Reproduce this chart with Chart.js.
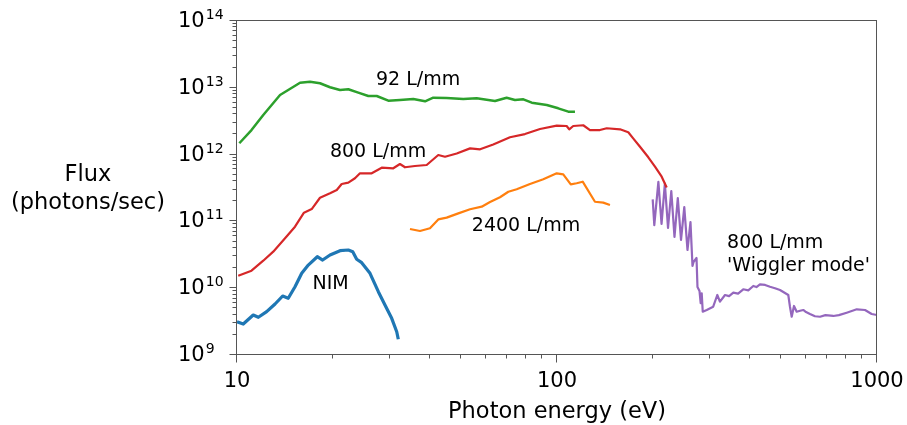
<!DOCTYPE html>
<html>
<head>
<meta charset="utf-8">
<script src="https://cdn.jsdelivr.net/npm/chart.js@4.4.1/dist/chart.umd.min.js"></script>
<style>
html,body{margin:0;padding:0;background:#fff;}
#wrap{width:907px;height:425px;position:relative;}
</style>
</head>
<body>
<div id="wrap"><canvas id="c" width="907" height="425"></canvas></div>
<script>
// ---- data (photon energy in eV, flux in photons/sec) ----
const nimEnergy = [10.0, 10.46, 11.24, 11.66, 12.38, 13.15, 13.89, 14.46, 15.18, 15.93, 16.7, 17.82, 18.52, 19.53, 20.99, 22.28, 23.0, 23.66, 24.53, 26.04, 27.65, 29.0, 30.44, 31.56, 31.92];
const nimFlux = [3.15e9, 2.91e9, 3.97e9, 3.67e9, 4.45e9, 5.8e9, 7.64e9, 7.06e9, 1.05e10, 1.67e10, 2.22e10, 2.96e10, 2.64e10, 3.14e10, 3.64e10, 3.73e10, 3.52e10, 2.71e10, 2.41e10, 1.67e10, 8.87e9, 5.61e9, 3.54e9, 2.23e9, 1.72e9];

const g92Energy = [10.17, 11.1, 12.08, 13.63, 15.74, 16.91, 18.17, 19.53, 20.99, 22.28, 23.93, 25.72, 27.33, 29.71, 32.3, 35.56, 38.7, 41.04, 45.2, 50.95, 56.1, 64.0, 69.6, 73.9, 78.5, 83.4, 92.9, 100.9, 108.5, 113.8];
const g92Flux = [1.48e12, 2.33e12, 3.92e12, 7.8e12, 1.19e13, 1.23e13, 1.17e13, 1.02e13, 9.27e12, 9.5e12, 8.45e12, 7.54e12, 7.54e12, 6.41e12, 6.57e12, 6.8e12, 6.28e12, 7.11e12, 7.03e12, 6.8e12, 6.96e12, 6.34e12, 7.11e12, 6.57e12, 6.73e12, 5.98e12, 5.53e12, 4.93e12, 4.39e12, 4.39e12];

const g800Energy = [10.09, 11.1, 12.08, 12.98, 14.13, 15.18, 16.19, 17.12, 18.17, 19.53, 20.5, 21.24, 22.28, 23.37, 24.23, 26.36, 28.33, 30.79, 32.3, 33.5, 35.98, 39.15, 42.56, 44.67, 48.6, 53.5, 57.5, 63.2, 71.3, 79.4, 88.5, 99.8, 107.2, 109.2, 112.4, 120.8, 126.8, 136.2, 143, 157.4, 167, 173, 181.7, 192.9, 202.4, 212.4, 220.2];
const g800Flux = [1.54e10, 1.83e10, 2.58e10, 3.52e10, 5.59e10, 8.34e10, 1.35e11, 1.53e11, 2.26e11, 2.64e11, 2.95e11, 3.63e11, 3.8e11, 4.42e11, 5.25e11, 5.25e11, 6.37e11, 6.24e11, 7.23e11, 6.46e11, 6.75e11, 6.99e11, 9.86e11, 9.3e11, 1.04e12, 1.24e12, 1.2e12, 1.42e12, 1.82e12, 2.03e12, 2.42e12, 2.71e12, 2.68e12, 2.39e12, 2.68e12, 2.75e12, 2.33e12, 2.33e12, 2.48e12, 2.39e12, 2.16e12, 1.75e12, 1.31e12, 9.12e11, 6.59e11, 4.67e11, 3.22e11];

const g2400Energy = [34.72, 37.31, 40.09, 42.56, 45.2, 49.16, 53.5, 58.17, 61.76, 66.35, 70.46, 74.82, 82.34, 90.6, 99.8, 104.6, 110.4, 115.2, 120.3, 131.4, 139.5, 146.4];
const g2400Flux = [7.7e10, 7.18e10, 7.89e10, 1.07e11, 1.14e11, 1.32e11, 1.52e11, 1.66e11, 1.95e11, 2.3e11, 2.78e11, 3.03e11, 3.63e11, 4.27e11, 5.25e11, 5.07e11, 3.59e11, 3.72e11, 3.93e11, 1.97e11, 1.91e11, 1.76e11];

const wigEnergy = [199.1, 201.4, 207.4, 212.2, 217.3, 222.3, 227.6, 232.9, 238.5, 244.1, 249.9, 255.7, 261.3, 265.1, 267.1, 272.9, 274.8, 278.8, 281.2, 283.3, 285.4, 293.7, 307.7, 316.9, 323.0, 335.0, 345.0, 355.6, 368.0, 382.0, 396.0, 410.6, 420.0, 430.8, 447.0, 463.0, 480.0, 497.6, 528.2, 534.6, 541.3, 550.3, 561.1, 575.0, 588.4, 600.0, 617.4, 640.0, 663.6, 690.0, 730.1, 760.0, 804.1, 864.5, 917.4, 962.5, 1000];
const wigFlux = [2.14e11, 8.8e10, 3.9e11, 9.15e10, 3.69e11, 7.97e10, 2.85e11, 5.84e10, 2.24e11, 5.27e10, 1.64e11, 3.73e10, 9.8e10, 2.15e10, 2.47e10, 2.83e10, 1.04e10, 9.1e9, 5.95e9, 8.39e9, 4.45e9, 4.72e9, 5.28e9, 7.91e9, 6.28e9, 7.91e9, 7.6e9, 8.57e9, 8.3e9, 9.63e9, 9.3e9, 1.08e10, 1.04e10, 1.14e10, 1.12e10, 1.05e10, 1.0e10, 9.4e9, 7.91e9, 5.28e9, 3.74e9, 5.42e9, 4.45e9, 4.6e9, 4.72e9, 4.4e9, 4.11e9, 3.8e9, 3.74e9, 3.95e9, 3.84e9, 3.95e9, 4.3e9, 4.83e9, 4.72e9, 4.11e9, 3.97e9];

// tick labels
const xTickValues = [10, 100, 1000];
const xTickLabels = ['10', '100', '1000'];
const yTickExponents = [9, 10, 11, 12, 13, 14];

// in-plot labels (text, anchor energy, anchor flux)
const noteTexts = ['92 L/mm', '800 L/mm', '2400 L/mm', 'NIM', '800 L/mm', "'Wiggler mode'"];
const noteEnergy = [36.8, 27.6, 80, 19.6, 340, 340];
const noteFlux = [1.38e13, 1.17e12, 9.1e10, 1.24e10, 5.09e10, 5.09e10];

const xTitle = 'Photon energy (eV)';
const yTitleLines = ['Flux', '(photons/sec)'];

// ---- helpers ----
const pts = (E, F) => E.map((e, i) => ({x: e, y: F[i]}));
const FONT = '"DejaVu Sans", "Liberation Sans", sans-serif';

const axesPlugin = {
  id: 'mplAxes',
  afterDatasetsDraw(chart) {
    const ctx = chart.ctx;
    const xs = chart.scales.x, ys = chart.scales.y;
    const a = chart.chartArea;
    const L = Math.round(a.left) - 0.5, R = Math.round(a.right) - 0.5;
    const T = Math.round(a.top) - 0.5, B = Math.round(a.bottom) - 0.5;
    ctx.save();
    ctx.strokeStyle = '#555';
    ctx.lineWidth = 1;
    ctx.strokeRect(L, T, R - L, B - T);
    // x ticks
    ctx.beginPath();
    for (let d = 10; d <= 1000; d *= 10) {
      for (let k = 1; k <= 9; k++) {
        const v = k * d;
        if (v > 1000) break;
        const px = Math.round(xs.getPixelForValue(v)) - 0.5;
        const len = (k === 1) ? 8 : 4;
        ctx.moveTo(px, B); ctx.lineTo(px, B + len);
      }
    }
    // y ticks
    for (let e = 9; e <= 14; e++) {
      for (let k = 1; k <= 9; k++) {
        const v = k * Math.pow(10, e);
        if (e === 14 && k > 1) break;
        const py = Math.round(ys.getPixelForValue(v)) - 0.5;
        const len = (k === 1) ? 7 : 4;
        ctx.moveTo(L, py); ctx.lineTo(L - len, py);
      }
    }
    ctx.stroke();

    ctx.fillStyle = '#000';
    // x tick labels
    ctx.font = '21px ' + FONT;
    ctx.textAlign = 'center';
    ctx.textBaseline = 'alphabetic';
    xTickValues.forEach((v, i) => {
      ctx.fillText(xTickLabels[i], xs.getPixelForValue(v), B + 32.5);
    });
    // y tick labels: 10^n
    ctx.textAlign = 'left';
    yTickExponents.forEach(n => {
      const py = ys.getPixelForValue(Math.pow(10, n));
      ctx.font = '21px ' + FONT;
      const base = '10';
      const w = ctx.measureText(base).width;
      const x0 = 178;
      ctx.fillText(base, x0, py + 6);
      ctx.font = '14px ' + FONT;
      ctx.fillText(String(n), x0 + w + 1, py - 2);
    });
    // axis titles
    ctx.font = '22.5px ' + FONT;
    ctx.textAlign = 'center';
    ctx.fillText(xTitle, (a.left + a.right) / 2, 418);
    ctx.fillText(yTitleLines[0], 88, 181);
    ctx.fillText(yTitleLines[1], 88, 209);

    // annotations
    ctx.font = '19px ' + FONT;
    noteTexts.forEach((t, i) => {
      const px = xs.getPixelForValue(noteEnergy[i]);
      const py = ys.getPixelForValue(noteFlux[i]);
      if (i >= 4) {
        ctx.textAlign = 'left';
        ctx.fillText(t, px, py + 7 + (i - 4) * 23);
      } else {
        ctx.textAlign = 'center';
        ctx.fillText(t, px, py + 7);
      }
    });
    ctx.restore();
  }
};

new Chart(document.getElementById('c').getContext('2d'), {
  type: 'line',
  data: {
    datasets: [
      {label: 'NIM', data: pts(nimEnergy, nimFlux), borderColor: '#1f77b4', borderWidth: 3.2},
      {label: '92 L/mm', data: pts(g92Energy, g92Flux), borderColor: '#2ca02c', borderWidth: 2.5},
      {label: '800 L/mm', data: pts(g800Energy, g800Flux), borderColor: '#d62728', borderWidth: 2.2},
      {label: '2400 L/mm', data: pts(g2400Energy, g2400Flux), borderColor: '#ff7f0e', borderWidth: 2.2},
      {label: "800 L/mm 'Wiggler mode'", data: pts(wigEnergy, wigFlux), borderColor: '#9467bd', borderWidth: 2.2}
    ]
  },
  options: {
    responsive: false,
    animation: false,
    devicePixelRatio: 1,
    layout: {padding: {left: 237, right: 30, top: 21, bottom: 70}},
    plugins: {legend: {display: false}, tooltip: {enabled: false}},
    elements: {
      point: {radius: 0, hoverRadius: 0},
      line: {tension: 0, fill: false, borderJoinStyle: 'round', borderCapStyle: 'butt'}
    },
    scales: {
      x: {type: 'logarithmic', min: 10, max: 1000, display: false},
      y: {type: 'logarithmic', min: 1e9, max: 1e14, display: false}
    }
  },
  plugins: [axesPlugin]
});
</script>
</body>
</html>
